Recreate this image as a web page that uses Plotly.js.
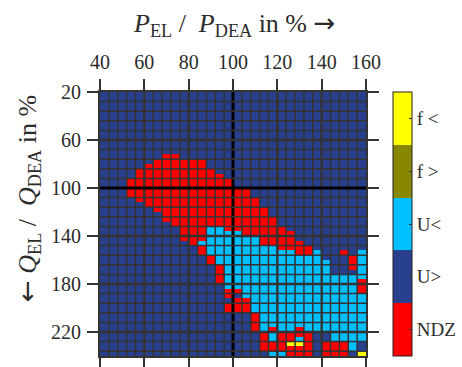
<!DOCTYPE html>
<html>
<head>
<meta charset="utf-8">
<script src="https://cdn.plot.ly/plotly-3.0.1.min.js"></script>
<style>html,body{margin:0;padding:0;background:#fff;}#chart{width:462px;height:367px;}</style>
</head>
<body>
<div id="chart"></div>
<script>
// category codes per cell: r = NDZ, b = U>, c = U<, o = f>, y = f<
const categoryCodes = ['r', 'b', 'c', 'o', 'y'];
const categoryLabels = ['NDZ', 'U>', 'U<', 'f >', 'f <'];
const categoryColors = ['#ff0000', '#273f8c', '#00bfff', '#878700', '#ffff00'];

// P_EL/P_DEA columns: 40..160 in steps of 4 (30 columns)
const pStart = 40, pStep = 4, pCount = 30;
// Q_EL/Q_DEA rows: 20..240 in steps of 4 (55 rows)
const qStart = 20, qStep = 4, qCount = 55;

const gridRows = [
  "bbbbbbbbbbbbbbbbbbbbbbbbbbbbbb", // 20
  "bbbbbbbbbbbbbbbbbbbbbbbbbbbbbb",
  "bbbbbbbbbbbbbbbbbbbbbbbbbbbbbb",
  "bbbbbbbbbbbbbbbbbbbbbbbbbbbbbb",
  "bbbbbbbbbbbbbbbbbbbbbbbbbbbbbb",
  "bbbbbbbbbbbbbbbbbbbbbbbbbbbbbb",
  "bbbbbbbbbbbbbbbbbbbbbbbbbbbbbb",
  "bbbbbbbbbbbbbbbbbbbbbbbbbbbbbb",
  "bbbbbbbbbbbbbbbbbbbbbbbbbbbbbb",
  "bbbbbbbbbbbbbbbbbbbbbbbbbbbbbb",
  "bbbbbbbbbbbbbbbbbbbbbbbbbbbbbb",
  "bbbbbbbbbbbbbbbbbbbbbbbbbbbbbb",
  "bbbbbbbbbbbbbbbbbbbbbbbbbbbbbb", // 68
  "bbbbbbbrrbbbbbbbbbbbbbbbbbbbbb", // 72
  "bbbbbbrrrrrrbbbbbbbbbbbbbbbbbb",
  "bbbbbrrrrrrrbbbbbbbbbbbbbbbbbb",
  "bbbbrrrrrrrrrbbbbbbbbbbbbbbbbb",
  "bbbbrrrrrrrrrrbbbbbbbbbbbbbbbb",
  "bbbrrrrrrrrrrrrbbbbbbbbbbbbbbb",
  "bbbrrrrrrrrrrrrbbbbbbbbbbbbbbb",
  "bbbrrrrrrrrrrrrrrbbbbbbbbbbbbb", // 100
  "bbbrrrrrrrrrrrrrrbbbbbbbbbbbbb",
  "bbbbrrrrrrrrrrrrrrbbbbbbbbbbbb",
  "bbbbbrrrrrrrrrrrrrbbbbbbbbbbbb",
  "bbbbbbrrrrrrrrrrrrrbbbbbbbbbbb",
  "bbbbbbbrrrrrrrrrrrrbbbbbbbbbbb",
  "bbbbbbbrrrrrrrrrrrrrbbbbbbbbbb",
  "bbbbbbbbrrrrrrrrrrrrbbbbbbbbbb",
  "bbbbbbbbbrrrccrrrrrrrbbbbbbbbb",
  "bbbbbbbbbrrrccccrrrrrrbbbbbbbb",
  "bbbbbbbbbrrrccccccrrrrbbbbbbbb", // 140
  "bbbbbbbbbbrcccccccrrrrrbbbbbbb",
  "bbbbbbbbbbbrccccccccrrrrbbbbbb",
  "bbbbbbbbbbbrccccccccccrrcbbrbc",
  "bbbbbbbbbbbbrccccccccccccbbbrc",
  "bbbbbbbbbbbbrcccccccccccccbbrc",
  "bbbbbbbbbbbbbrccccccccccccbbrc",
  "bbbbbbbbbbbbbrccccccccccccbbbc",
  "bbbbbbbbbbbbbrcccccccccccccccc",
  "bbbbbbbbbbbbbrcccccccccccccccr",
  "bbbbbbbbbbbbbbcccccccccccccccr", // 180
  "bbbbbbbbbbbbbbrrcccccccccccccr",
  "bbbbbbbbbbbbbbrbcccccccccccccc",
  "bbbbbbbbbbbbbbbrrccccccccccccc",
  "bbbbbbbbbbbbbbrrrccccccccccccc",
  "bbbbbbbbbbbbbbrrrccccccccccccc",
  "bbbbbbbbbbbbbbbbbrcccccccccccc",
  "bbbbbbbbbbbbbbbbbrcccccccccccc",
  "bbbbbbbbbbbbbbbbbrcccccccccccc",
  "bbbbbbbbbbbbbbbbbrcrccrccccccc",
  "bbbbbbbbbbbbbbbbbbrcrrrrbbcccc", // 220
  "bbbbbbbbbbbbbbbbbbrcrrcrbbcccc",
  "bbbbbbbbbbbbbbbbbbrrryyrbrrrcb",
  "bbbbbbbbbbbbbbbbbbrrrrrrbrrrcb",
  "bbbbbbbbbbbbbbbbbbbccrrrbrrrby"  // 236
];

const xTicks = [40, 60, 80, 100, 120, 140, 160];
const yTicks = [20, 60, 100, 140, 180, 220];

const xEdges = Array.from({length: pCount + 1}, (_, i) => pStart + i * pStep);
const yEdges = Array.from({length: qCount + 1}, (_, i) => qStart + i * qStep);
const z = gridRows.map(row => row.split('').map(ch => categoryCodes.indexOf(ch) + 1));

const n = categoryColors.length;
const colorscale = [];
categoryColors.forEach((c, i) => { colorscale.push([i / n, c]); colorscale.push([(i + 1) / n, c]); });

const font = 'Liberation Serif';
const ink = '#2b2b2b';
const arrowSpan = s => '<span style="font-family:DejaVu Sans">' + s + '</span>';

// grid overlay (cell borders) drawn above the heatmap
const shapes = [];
const xMin = xEdges[0], xMax = xEdges[xEdges.length - 1];
const yMin = yEdges[0], yMax = 240;
for (let x = xMin + pStep; x < xMax; x += pStep) {
  const center = x === 100, major = (x % 20 === 0);
  shapes.push({type: 'line', xref: 'x', yref: 'y', x0: x, x1: x, y0: yMin, y1: yMax, layer: 'above',
    line: {color: center ? '#000' : '#333', width: center ? 3 : (major ? 2.4 : 1.5)}});
}
for (let y = yMin + 8; y < yMax; y += 8) {
  const center = y === 100, major = ((y - 20) % 40 === 0);
  shapes.push({type: 'line', xref: 'x', yref: 'y', x0: xMin, x1: xMax, y0: y, y1: y, layer: 'above',
    line: {color: center ? '#000' : '#333', width: center ? 3 : (major ? 2.4 : 1.5)}});
}

const trace = {
  type: 'heatmap',
  x: xEdges,
  y: yEdges,
  z: z,
  zmin: 0.5, zmax: 5.5,
  colorscale: colorscale,
  hoverinfo: 'skip',
  colorbar: {
    xref: 'container', x: 393 / 462, xanchor: 'left', xpad: 0,
    yref: 'paper', y: 0.5, yanchor: 'middle', len: 1, lenmode: 'fraction', ypad: 0,
    thickness: 19, thicknessmode: 'pixels',
    outlinewidth: 1, outlinecolor: '#222',
    tickvals: [1, 2, 3, 4, 5], ticktext: categoryLabels,
    ticks: 'inside', ticklen: 3, tickwidth: 1, tickcolor: '#333',
    tickfont: {family: font, size: 19, color: ink}
  }
};

const axisCommon = {
  showgrid: false, zeroline: false, showline: true, linecolor: '#333', linewidth: 2,
  mirror: 'ticks', ticks: 'outside', ticklen: 11, tickwidth: 2, tickcolor: '#333',
  tickfont: {family: font, size: 20, color: ink}, fixedrange: true
};

const layout = {
  width: 462, height: 367,
  font: {family: font, color: ink},
  margin: {l: 100, r: 96, t: 92, b: 11, pad: 0},
  paper_bgcolor: '#fff', plot_bgcolor: '#fff',
  showlegend: false,
  xaxis: Object.assign({}, axisCommon, {range: [40, 160], side: 'top', tickvals: xTicks, ticklabelstandoff: 2}),
  yaxis: Object.assign({}, axisCommon, {range: [240, 20], tickvals: yTicks, ticklabelstandoff: 2}),
  shapes: shapes,
  annotations: [
    {xref: 'paper', yref: 'paper', x: (234 - 100) / 266, y: 1 + (92 - 24) / 264, xanchor: 'center', yanchor: 'middle', showarrow: false,
     text: '<i>P</i><sub>EL</sub>\u00a0/\u00a0\u00a0<i>P</i><sub>DEA</sub> in % ' + arrowSpan('\u2192'),
     font: {family: font, size: 26, color: ink}},
    {xref: 'paper', yref: 'paper', x: (28 - 100) / 266, y: 1 - (199 - 92) / 264, xanchor: 'center', yanchor: 'middle', showarrow: false,
     textangle: -90,
     text: arrowSpan('\u2190') + ' <i>Q</i><sub>EL</sub>\u00a0/\u00a0\u00a0<i>Q</i><sub>DEA</sub> in %',
     font: {family: font, size: 26, color: ink}}
  ]
};

Plotly.newPlot('chart', [trace], layout, {displayModeBar: false, staticPlot: true});
</script>
</body>
</html>
